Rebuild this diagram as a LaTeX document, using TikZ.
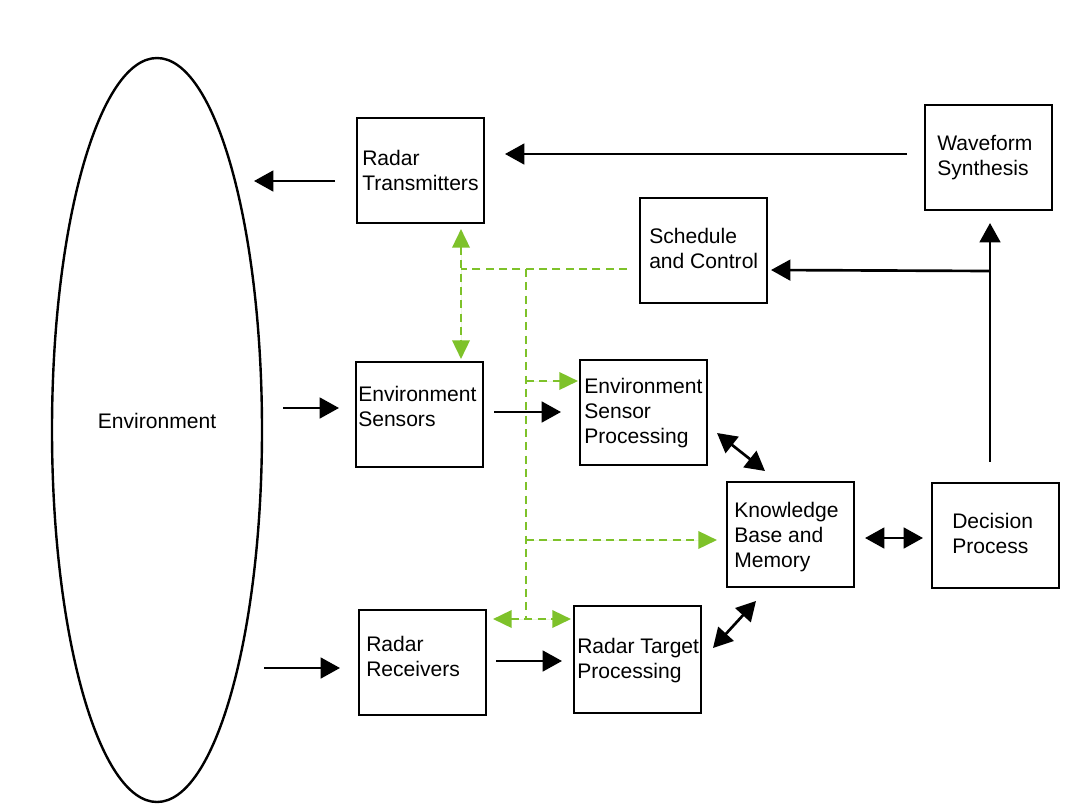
\documentclass[tikz,border=0pt]{standalone}
\usepackage{fontspec}
\setmainfont{Liberation Sans}
\usetikzlibrary{arrows.meta,calc,shapes.geometric}
\definecolor{dashgreen}{RGB}{126,194,42}
\begin{document}
\begin{tikzpicture}[x=0.75pt,y=-0.75pt,
  box/.style={draw=black,line width=1.5pt,minimum width=95.25pt,minimum height=78.75pt,inner sep=0pt},
  lbl/.style={anchor=west,align=left,inner sep=0pt,font=\fontsize{15.8}{18.75}\selectfont},
  arr/.style={line width=2pt,-{Triangle[length=14.5pt,width=15.5pt]}},
  darr/.style={line width=2pt,{Triangle[length=14.5pt,width=15.5pt]}-{Triangle[length=14.5pt,width=15.5pt]}},
  gdash/.style={draw=dashgreen,line width=1.9pt,dash pattern=on 6pt off 4pt},
  garr/.style={gdash,-{Triangle[length=14pt,width=13pt]},fill=dashgreen},
  gdarr/.style={gdash,{Triangle[length=14pt,width=13pt]}-{Triangle[length=14pt,width=13pt]},fill=dashgreen}]
\useasboundingbox (0,0) rectangle (1068,804);
\fill[white] (0,0) rectangle (1068,804);

% environment
\node[ellipse,draw=black,line width=1.8pt,minimum width=157.5pt,minimum height=558pt,inner sep=0pt] (env) at (157,430) {};
\node[lbl,anchor=center] (envtxt) at (157,421) {Environment};

% blocks
\node[box] (tx)  at (420.5,170.5) {};
\node[box] (wf)  at (988.5,157.5) {};
\node[box] (sc)  at (703.5,250.5) {};
\node[box] (es)  at (419.5,414.5) {};
\node[box] (esp) at (643.5,412.5) {};
\node[box] (kb)  at (790.5,534.5) {};
\node[box] (dp)  at (995.5,535) {};
\node[box] (rr)  at (422.5,662.5) {};
\node[box,minimum height=80.25pt] (rtp) at (637.5,659.5) {};

% block labels
\node[lbl] (txtxt)  at (362,170) {Radar\\Transmitters};
\node[lbl] (wftxt)  at (937,158) {Waveform\\Synthesis};
\node[lbl] (sctxt)  at (649,248) {Schedule\\and Control};
\node[lbl] (estxt)  at (358,406) {Environment\\Sensors};
\node[lbl] (esptxt) at (584,413) {Environment\\Sensor\\Processing};
\node[lbl] (kbtxt)  at (734,537) {Knowledge\\Base and\\Memory};
\node[lbl] (dptxt)  at (952,533) {Decision\\Process};
\node[lbl] (rrtxt)  at (366,656) {Radar\\Receivers};
\node[lbl] (rtptxt) at (577,661) {Radar Target\\Processing};

% black signal flow
\draw[arr] ($(tx.west)+(-21,10.5)$) -- ++(-81,0);
\draw[arr] ($(wf.west)+(-17,-3.5)$) -- ($(tx.east)+(20,-16.5)$);
\coordinate (jn) at ($(wf.south)+(1.5,60)$);
\draw[arr] ($(dp.north)+(-5.5,-20)$) -- ($(wf.south)+(1.5,12)$);
\draw[arr] (jn) -- ($(sc.east)+(3,19.5)$);
\draw[arr] ($(es.west)+(-72,-6.5)$) -- ++(56,0);
\draw[arr] ($(es.east)+(10,-2.5)$) -- ($(esp.west)+(-18,-0.5)$);
\draw[darr] ($(esp.south east)+(9,-33)$) -- ($(kb.north west)+(39,-10)$);
\draw[darr] ($(kb.east)+(10,3.5)$) -- ($(dp.west)+(-8,3)$);
\draw[darr] ($(rtp.east)+(11,-11.5)$) -- ($(kb.south west)+(30,13)$);
\draw[arr] ($(rr.west)+(-94,5.5)$) -- ++(76,0);
\draw[arr] ($(rr.east)+(9,-1.5)$) -- ($(rtp.west)+(-11,1.5)$);

% green control links
\coordinate (gv) at ($(tx.south)+(40.5,5)$);
\coordinate (gsrc) at ($(sc.west)+(-12,18.5)$);
\coordinate (gbus) at ($(gsrc)+(-101,0)$);
\coordinate (gbot) at ($(rr.north east)+(41.5,10)$);
\draw[gdarr] (gv) -- ($(es.north)+(41.5,-2)$);
\draw[gdash] (gsrc) -- (gsrc -| gv);
\draw[gdash] (gbus) -- (gbus |- gbot);
\draw[garr] ($(esp.west)+(-53,-31.5)$) -- ($(esp.west)+(-1,-31.5)$);
\draw[garr] ($(kb.west)+(-200,5.5)$) -- ($(kb.west)+(-9,5.5)$);
\draw[gdarr] ($(rr.north east)+(6,10)$) -- ($(rtp.north west)+(-2,14)$);
\end{tikzpicture}
\end{document}
